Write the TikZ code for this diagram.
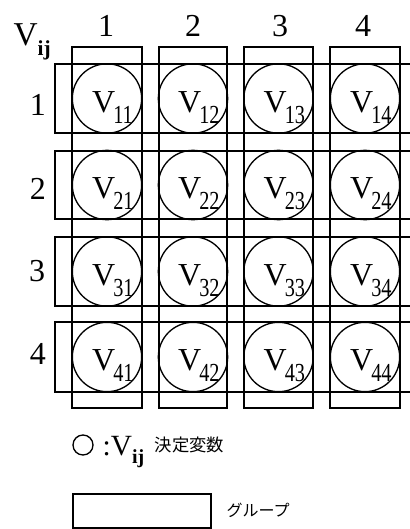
\documentclass[tikz,border=0pt]{standalone}
\usepackage{fontspec}
\setmainfont{Liberation Serif}
\newfontfamily\cjk[AutoFakeBold=1.2]{Noto Sans CJK JP}
\newcommand\vsub[1]{{\fontsize{24}{24}\selectfont V}\kern-1.5pt\raisebox{-8.25pt}{\scalebox{0.78}[1]{\fontsize{19.5}{20}\selectfont #1}}}
\begin{document}
\begin{tikzpicture}[x=0.75pt,y=-0.75pt,line width=1pt,
  grp/.style={draw,line width=1pt},
  var/.style={draw,circle,minimum size=52pt,inner sep=0pt,line width=1pt},
  vlab/.style={anchor=base west,inner sep=0pt},
  idx/.style={inner sep=0pt,font=\fontsize{24}{24}\selectfont}]
\useasboundingbox (0,0) rectangle (410,529);
% row groups
\foreach \t/\b in {64/133,151/219,237/306,322/392}
  \draw[grp] (55,\t) rectangle (418,\b);
% column groups
\foreach \l/\r in {72/142,159/227,244/313,330/400}
  \draw[grp] (\l,47) rectangle (\r,408);
% variables
\foreach \i/\cy in {1/98.5,2/185,3/271.5,4/357}
  \foreach \j/\cx in {1/107,2/193,3/278.5,4/365}{
    \node[var] (c\i\j) at (\cx,\cy) {};
    \node[vlab] (t\i\j) at (\cx-15.5,\cy+13.5) {\vsub{\i\j}};
  }
% column indices
\node[idx] (h1) at (106,26) {1};
\node[idx] (h2) at (193,26) {2};
\node[idx] (h3) at (280,26) {3};
\node[idx] (h4) at (363,26) {4};
% row indices
\node[idx] (r1) at (38,105) {1};
\node[idx] (r2) at (38,189) {2};
\node[idx] (r3) at (37,271) {3};
\node[idx] (r4) at (38,353.5) {4};
% corner label
\node[vlab] (vij) at (13,45) {{\fontsize{25}{25}\selectfont V}\raisebox{-7.5pt}{\fontsize{16}{16}\selectfont\bfseries ij}};
% legend
\node[draw,circle,minimum size=15pt,inner sep=0pt] (lc) at (83,445) {};
\node[vlab] (lv) at (102,455) {{\fontsize{22}{22}\selectfont :V}\raisebox{-6pt}{\fontsize{15}{15}\selectfont\bfseries ij}};
\node[anchor=west,inner sep=0pt] (lvt) at (154,445) {\cjk\fontsize{13}{13}\selectfont 決定変数};
\node[draw,minimum width=103.5pt,minimum height=25.5pt,inner sep=0pt] (lr) at (142,511) {};
\node[anchor=west,inner sep=0pt] (lrt) at (226,510) {\cjk\fontsize{12}{12}\selectfont グループ};
\end{tikzpicture}
\end{document}
